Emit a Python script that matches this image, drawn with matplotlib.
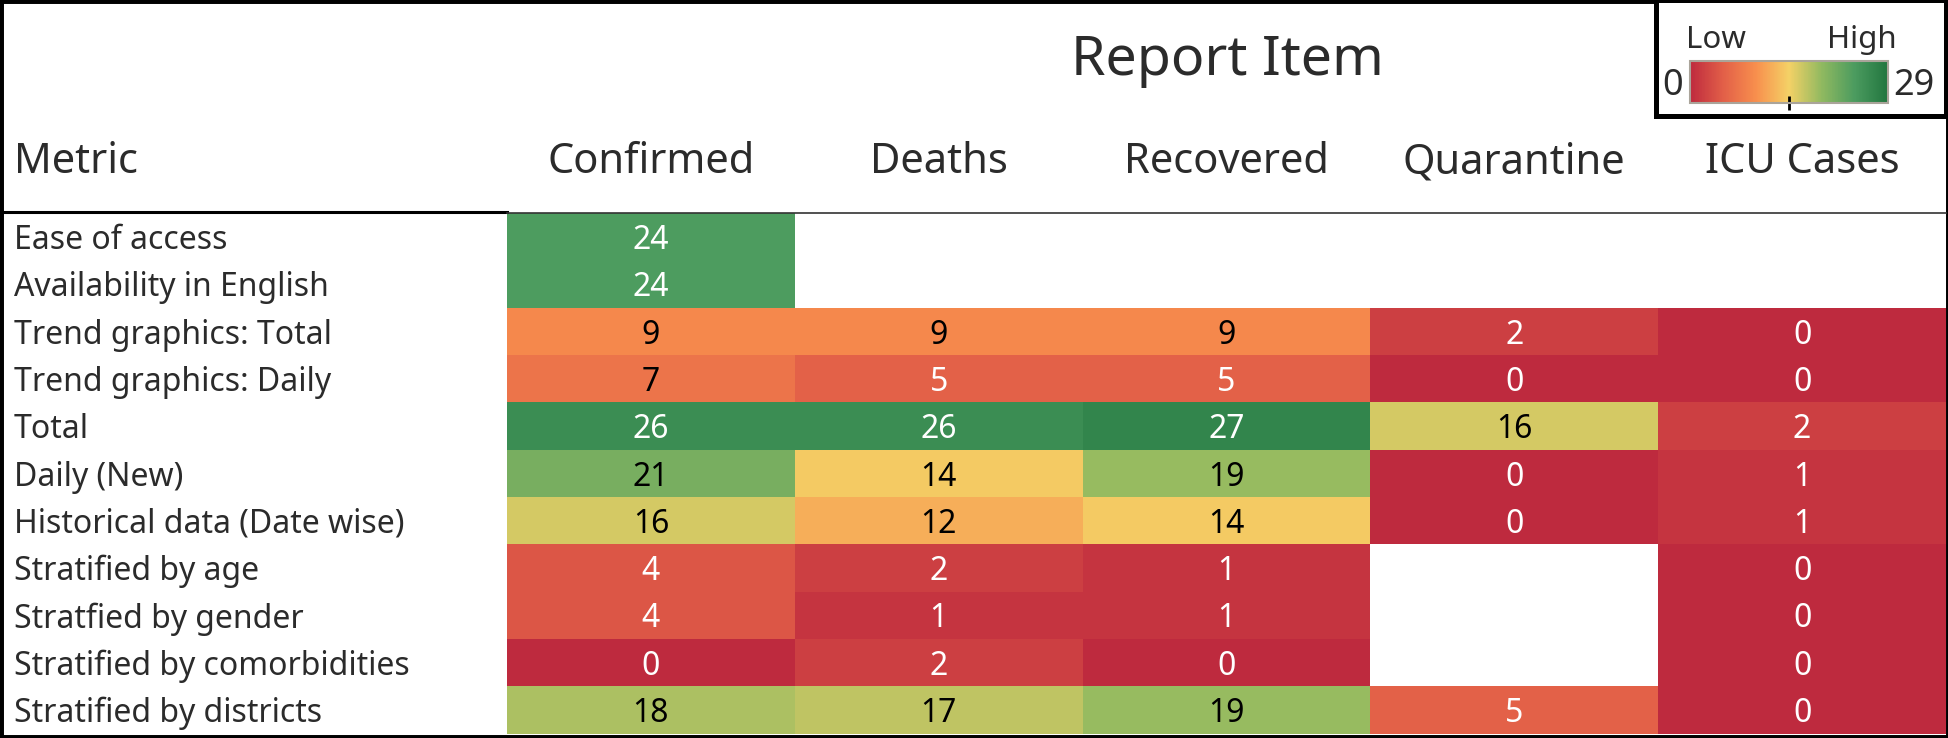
import numpy as np
import matplotlib
matplotlib.use('Agg')
from matplotlib import pyplot as plt
from matplotlib.colors import LinearSegmentedColormap, Normalize
from matplotlib.patches import Rectangle
from matplotlib.lines import Line2D
from matplotlib import transforms
import matplotlib.cm as cm

plt.rcParams['font.family'] = ['Noto Sans', 'DejaVu Sans']

metrics = ['Ease of access', 'Availability in English', 'Trend graphics: Total',
           'Trend graphics: Daily', 'Total', 'Daily (New)', 'Historical data (Date wise)',
           'Stratified by age', 'Stratfied by gender', 'Stratified by comorbidities',
           'Stratified by districts']
items = ['Confirmed', 'Deaths', 'Recovered', 'Quarantine', 'ICU Cases']

# nan = no value
confirmed = [24, 24, 9, 7, 26, 21, 16, 4, 4, 0, 18]
deaths = [np.nan, np.nan, 9, 5, 26, 14, 12, 2, 1, 2, 17]
recovered = [np.nan, np.nan, 9, 5, 27, 19, 14, 1, 1, 0, 19]
quarantine = [np.nan, np.nan, 2, 0, 16, 0, 0, np.nan, np.nan, np.nan, 5]
icu = [np.nan, np.nan, 0, 0, 2, 1, 1, 0, 0, 0, 0]

vmin, vmax = 0, 29

vals = np.array([confirmed, deaths, recovered, quarantine, icu]).T
masked = np.ma.masked_invalid(vals)

# tableau red-green-gold diverging
cmap = LinearSegmentedColormap.from_list(
    'rgg', ['#be2a3e', '#e25f48', '#f88f4d', '#f4d166', '#90b960', '#4b9b5f', '#22763f'])
norm = Normalize(vmin=vmin, vmax=vmax)

W, H = 1949, 738
fig = plt.figure(figsize=(W / 100, H / 100), dpi=100)
fig.patch.set_facecolor('white')

def fx(px):
    return px / W

def fy(py):
    return 1 - py / H

txt = '#2b2b2b'

ax = fig.add_axes([fx(507), fy(733.5), fx(1946) - fx(507), fy(213) - fy(733.5)])
ax.pcolormesh(np.arange(len(items) + 1), np.arange(len(metrics) + 1), masked,
              cmap=cmap, norm=norm)
ax.set_xlim(0, len(items))
ax.set_ylim(len(metrics), 0)
ax.axis('off')

for i in range(len(metrics)):
    for j in range(len(items)):
        v = vals[i, j]
        if np.isnan(v):
            continue
        c = 'white' if (v <= 5 or v >= 22) else 'black'
        ax.text(j + 0.5, i + 0.58, '%d' % v, ha='center', va='center', fontsize=23, color=c)

# row labels
rowtr = transforms.blended_transform_factory(fig.transFigure, ax.transData)
for i, m in enumerate(metrics):
    ax.text(fx(14), i + 0.58, m, transform=rowtr, ha='left', va='center',
            fontsize=23, color=txt, clip_on=False)

# column headers
coltr = transforms.blended_transform_factory(ax.transData, fig.transFigure)
for j, it in enumerate(items):
    ax.text(j + 0.5, fy(162), it, transform=coltr, ha='center', va='center',
            fontsize=30, color=txt, clip_on=False)

fig.text(fx(14), fy(162), 'Metric', ha='left', va='center', fontsize=30, color=txt)
fig.text(fx(1227), fy(60), 'Report Item', ha='center', va='center', fontsize=40, color=txt)

# header lines
fig.add_artist(Line2D([fx(2), fx(507)], [fy(212), fy(212)], color='black', lw=2.2,
                      transform=fig.transFigure))
fig.add_artist(Line2D([fx(507), fx(1946)], [fy(212.5), fy(212.5)], color='#333333', lw=1.2,
                      transform=fig.transFigure))

# outer border
fig.add_artist(Rectangle((0, 0), 1, 1, transform=fig.transFigure, fill=False,
                         edgecolor='black', lw=5))

# legend box
fig.add_artist(Rectangle((fx(1656), fy(116)), fx(1946) - fx(1656), fy(0) - fy(116),
                         transform=fig.transFigure, facecolor='white',
                         edgecolor='black', lw=3.6, zorder=5))
cax = fig.add_axes([fx(1690), fy(103), fx(1888) - fx(1690), fy(61) - fy(103)], zorder=6)
cb = fig.colorbar(cm.ScalarMappable(norm=norm, cmap=cmap), cax=cax, orientation='horizontal')
cb.outline.set_edgecolor('#aaa49a')
cb.outline.set_linewidth(1.5)
cax.set_xticks([(vmin + vmax) / 2])
cax.tick_params(axis='x', direction='inout', length=10, width=2, labelbottom=False, color='black')
fig.text(fx(1716), fy(40), 'Low', ha='center', va='center', fontsize=22.5, color=txt, zorder=7)
fig.text(fx(1862), fy(40), 'High', ha='center', va='center', fontsize=22.5, color=txt, zorder=7)
fig.text(fx(1673), fy(86), '0', ha='center', va='center', fontsize=26, color=txt, zorder=7)
fig.text(fx(1914), fy(86), '29', ha='center', va='center', fontsize=26, color=txt, zorder=7)

plt.savefig('out.png', dpi=100)
